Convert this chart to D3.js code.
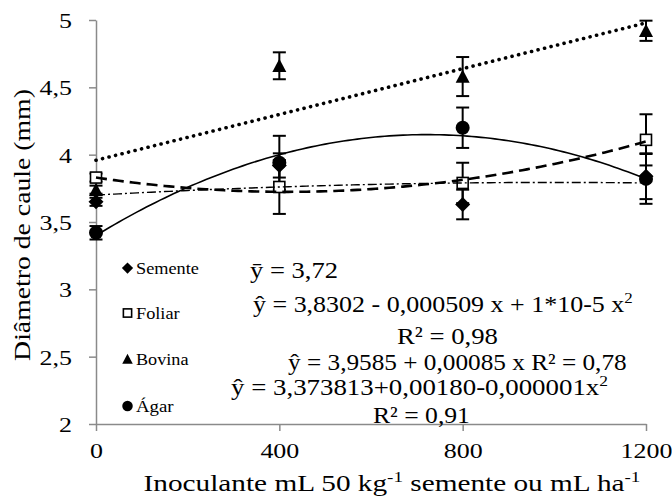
<!DOCTYPE html>
<html>
<head>
<meta charset="utf-8">
<script src="https://cdn.jsdelivr.net/npm/d3@7"></script>
<style>
  html, body { margin: 0; padding: 0; background: #fff; }
  svg { display: block; }
</style>
</head>
<body>
<svg id="chart" width="672" height="500"></svg>
<script>
// ---------- data ----------
const doses = [0, 400, 800, 1200];
const yTickValues = [2, 2.5, 3, 3.5, 4, 4.5, 5];
const yTickLabels = ["2", "2,5", "3", "3,5", "4", "4,5", "5"];
const xTickLabels = ["0", "400", "800", "1200"];

const seriesNames = ["Semente", "Foliar", "Bovina", "Ágar"];
const semente    = [3.65, 3.92, 3.63, 3.84];
const sementeErr = [0.03, 0.09, 0.11, 0.17];
const foliar     = [3.83, 3.76, 3.79, 4.11];
const foliarErr  = [0.03, 0.20, 0.15, 0.19];
const bovina     = [3.74, 4.66, 4.58, 4.92];
const bovinaErr  = [0.03, 0.10, 0.145, 0.075];
const agar       = [3.42, 3.94, 4.20, 3.82];
const agarErr    = [0.05, 0.20, 0.15, 0.185];

// trend-line coefficients (a + b x + c x^2) as drawn in the figure
const sementeTrend = [3.70, 1.875e-4, -9.375e-8];
const foliarTrend  = [3.8302, -0.000509, 6.1e-7];
const bovinaTrend  = [3.9585, 0.00085, 0];
const agarTrend    = [3.40, 0.002075, -1.4375e-6];

const equations = [
  ["ȳ = 3,72", null],
  ["ŷ = 3,8302 - 0,000509 x + 1*10-5 x", "2"],
  ["R² = 0,98", null],
  ["ŷ = 3,9585 + 0,00085 x R² = 0,78", null],
  ["ŷ = 3,373813+0,00180-0,000001x", "2"],
  ["R² = 0,91", null]
];

// ---------- layout ----------
const FONT = '"Liberation Serif"';
const svg = d3.select("#chart");
const x = d3.scaleLinear().domain([0, 1200]).range([96, 646]);
const y = d3.scaleLinear().domain([2, 5]).range([424, 20]);
const axisColor = "#8a8a8a";
const TXT = 1.18; // horizontal text stretch of the original

// axes
const yAxis = svg.append("g").attr("transform", "translate(96,0)")
  .call(d3.axisLeft(y).tickValues(yTickValues).tickSize(7).tickSizeOuter(0)
        .tickFormat((d, i) => yTickLabels[i]));
const xAxis = svg.append("g").attr("transform", "translate(0,424)")
  .call(d3.axisBottom(x).tickValues(doses).tickSize(7).tickSizeOuter(0)
        .tickFormat((d, i) => xTickLabels[i]));
[yAxis, xAxis].forEach(a => {
  a.attr("font-family", null).attr("font-size", null);
  a.select(".domain").attr("stroke", axisColor).attr("stroke-width", 1.5);
  a.selectAll(".tick line").attr("stroke", axisColor).attr("stroke-width", 1.5);
  a.selectAll(".tick text").attr("fill", "#000")
    .style("font-family", FONT).style("font-size", "22px");
});
yAxis.selectAll(".tick text").attr("x", -24 / TXT).attr("dy", "0.34em")
  .attr("transform", `scale(${TXT},1)`);
xAxis.selectAll(".tick text").attr("y", 34).attr("dy", 0)
  .attr("transform", `scale(${TXT},1)`);

// helper for stretched text
function stretched(parent, x0, y0, target, anchor, size, build, rot) {
  const g = parent.append("g");
  const t = g.append("text").attr("text-anchor", anchor).attr("fill", "#000")
    .style("font-family", FONT).style("font-size", size + "px");
  build(t, size);
  const w = t.node().getBBox().width;
  const s = target / w;
  g.attr("transform", `translate(${x0},${y0})` + (rot ? ` rotate(${rot})` : "") + ` scale(${s},1)`);
  return g;
}
function sup(t, size, str) {
  const up = size * 0.38;
  t.append("tspan").style("font-size", (size * 0.65) + "px").attr("dy", -up).text(str);
  return up;
}

// axis titles
stretched(svg, 392, 491, 497, "middle", 23, (t, sz) => {
  t.append("tspan").text("Inoculante mL 50 kg");
  const u = sup(t, sz, "-1");
  t.append("tspan").attr("dy", u).text(" semente ou mL ha");
  sup(t, sz, "-1");
});
stretched(svg, 30, 225, 272, "middle", 23, t => {
  t.text("Diâmetro de caule (mm)");
}, -90);

// ---------- series ----------
const series = [
  { name: seriesNames[0], v: semente, e: sementeErr, tr: sementeTrend, shape: "diamond", dash: "9,3,2,3", w: 1.4, cap: "butt" },
  { name: seriesNames[1], v: foliar,  e: foliarErr,  tr: foliarTrend,  shape: "square",  dash: "11,6",    w: 2.6, cap: "butt" },
  { name: seriesNames[2], v: bovina,  e: bovinaErr,  tr: bovinaTrend,  shape: "triangle",dash: "0.1,6.6", w: 3.6, cap: "round" },
  { name: seriesNames[3], v: agar,    e: agarErr,    tr: agarTrend,    shape: "circle",  dash: null,      w: 1.6, cap: "butt" }
];

function marker(g, shape, cx, cy, k) {
  if (shape === "diamond") {
    const r = 7.5 * k;
    g.append("path").attr("d", `M${cx},${cy - r}L${cx + r},${cy}L${cx},${cy + r}L${cx - r},${cy}Z`).attr("fill", "#000");
  } else if (shape === "square") {
    const s = 11 * k;
    g.append("rect").attr("x", cx - s / 2).attr("y", cy - s / 2).attr("width", s).attr("height", s)
      .attr("fill", "#fff").attr("stroke", "#000").attr("stroke-width", 1.6);
  } else if (shape === "triangle") {
    const h = 7 * k;
    g.append("path").attr("d", `M${cx},${cy - h}L${cx + h},${cy + h * 0.9}L${cx - h},${cy + h * 0.9}Z`).attr("fill", "#000");
  } else {
    g.append("circle").attr("cx", cx).attr("cy", cy).attr("r", 7 * k).attr("fill", "#000");
  }
}

const gSeries = svg.append("g");
series.forEach(s => {
  const g = gSeries.append("g");
  doses.forEach((d, i) => {
    const px = x(d), top = y(s.v[i] + s.e[i]), bot = y(s.v[i] - s.e[i]);
    g.append("line").attr("x1", px).attr("x2", px).attr("y1", top).attr("y2", bot)
      .attr("stroke", "#000").attr("stroke-width", 2);
    [top, bot].forEach(yy => g.append("line").attr("x1", px - 6.5).attr("x2", px + 6.5)
      .attr("y1", yy).attr("y2", yy).attr("stroke", "#000").attr("stroke-width", 2));
  });
});
series.forEach(s => {
  const g = gSeries.append("g");
  doses.forEach((d, i) => marker(g, s.shape, x(d), y(s.v[i]), 1));
});

// trend lines
const xs = d3.range(0, 1200.001, 10);
series.forEach(s => {
  const line = d3.line().x(d => x(d)).y(d => y(s.tr[0] + s.tr[1] * d + s.tr[2] * d * d));
  svg.append("path").attr("d", line(xs)).attr("fill", "none").attr("stroke", "#000")
    .attr("stroke-width", s.w).attr("stroke-dasharray", s.dash).attr("stroke-linecap", s.cap);
});

// ---------- legend ----------
const legY = [268, 313, 359, 406];
const legW = [63, 44, 53, 38];
const leg = svg.append("g");
series.forEach((s, i) => {
  marker(leg, s.shape, 127.5, legY[i], 0.75);
  stretched(leg, 136, legY[i] + 5.5, legW[i], "start", 17, t => t.text(s.name));
});

// ---------- equations ----------
const eqLeft = [250, 253, 397, 288, 231, 373];
const eqBase = [278, 312, 344, 370, 395, 423];
const eqWidth = [88, 380, 101, 339, 377, 97];
equations.forEach((eq, i) => {
  stretched(svg, eqLeft[i], eqBase[i], eqWidth[i], "start", 24, (t, sz) => {
    t.append("tspan").text(eq[0]);
    if (eq[1]) sup(t, sz, eq[1]);
  });
});
</script>
</body>
</html>
